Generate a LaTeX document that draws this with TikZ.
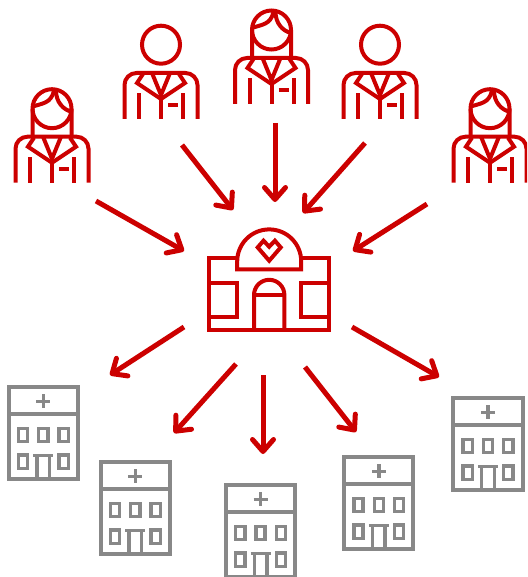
\documentclass[tikz,border=0pt]{standalone}
\usetikzlibrary{arrows.meta}
\definecolor{doRed}{HTML}{CC0000}
\definecolor{xam}{HTML}{888888}
\tikzset{
	nhanh/.style={doRed,line width=5pt,-{Straight Barb[length=12pt,width=21pt,line width=5pt,round]}},
	nguoi/.pic={
		% than nguoi
		\draw (-36.5,0)--(-36.5,-34) arc [radius=12, start angle=180, end angle=270]--(24.5,-46) arc [radius=12, start angle=270, end angle=360]--(36.5,0);
		\draw (-22,0)--(-22,-26) (22,0)--(22,-26) (0,0)--(0,-20) (7,-14)--(17,-14);
		\draw (-18,-45)--(-24,-36)--(0,-20)--(24,-36)--(18,-45);
		\draw (-9,-46)--(0,-24)--(9,-46);
	},
	nam/.pic={
		\pic {nguoi};
		\draw (0,-74.3) circle (19);
	},
	nu/.pic={
		\pic {nguoi};
		\draw (-19.5,-46)--(-19.5,-74) arc [radius=19.5, start angle=180, end angle=360]--(19.5,-46);
		\draw (-19.5,-74) arc [radius=19.5, start angle=180, end angle=0];
		\draw (-19.5,-76) .. controls (-10,-79.5) and (-1,-79) .. (2,-92);
		\draw (4,-92) .. controls (4,-81) and (11,-73) .. (19.5,-71);
	},
	phongkham/.pic={
		\draw (-32,-60.4)--(-60,-60.4)--(-60,11.3)--(60,11.3)--(60,-60.4)--(32,-60.4);
		\draw (-32,-49)--(-32,-57) arc [radius=32, start angle=180, end angle=360]--(32,-49)--cycle;
		\draw (-60,-35.7)--(-32,-35.7)--(-32,-1.7)--(-60,-1.7);
		\draw (60,-35.7)--(32,-35.7)--(32,-1.7)--(60,-1.7);
		\draw (-15.2,11.3)--(-15.2,-23.4) arc [radius=15.2, start angle=180, end angle=360]--(15.2,11.3);
		\draw (-15.2,-23.4)--(15.2,-23.4);
		% trai tim
		\draw[line join=miter] (0,-57.7)--(-11.5,-71)--(-5.7,-77.7)--(0,-71.7)--(5.7,-77.7)--(11.5,-71)--cycle;
	},
	benhvien/.pic={
		\draw[line width=4pt] (-34.6,2)--(34.6,2)--(34.6,94)--(-34.6,94)--cycle;
		\draw[line width=4pt] (-34.6,29.3)--(34.6,29.3);
		\draw[line width=3.4pt] (-7,16.3)--(7,16.3) (0,9.3)--(0,23.3);
		\foreach \i/\j in {-20.3/50,0/50,20.3/50,-20.3/76.7,20.3/76.7}
		\draw[line width=3.4pt] (\i-4.6,\j-6.6) rectangle (\i+4.6,\j+6.6);
		\draw[line width=3.4pt] (-10,70.7)--(10,70.7) (-6.3,70.7)--(-6.3,94) (6.3,70.7)--(6.3,94);
	}
}
\begin{document}
\begin{tikzpicture}[x=1pt,y=-1pt,line width=4pt,line join=miter]
	\useasboundingbox (0,0) rectangle (527,577);
	\clip (0,0) rectangle (527,577);
	% ve nguoi
	\pic[doRed] at (52,182.7) {nu};
	\pic[doRed] at (161,119) {nam};
	\pic[doRed] at (271.5,104) {nu};
	\pic[doRed] at (380,119) {nam};
	\pic[doRed] at (490,182.7) {nu};
	\pic[doRed] at (269.2,318.4) {phongkham};
	% ve benh vien
	\foreach \x/\y in {43.3/385,135.3/460,260.5/483,378.8/455,488/396}
	\pic[xam] at (\x,\y) {benhvien};
	% ve mui ten
	\path
	(96,201) coordinate (A1) (184,251) coordinate (B1)
	(182,145) coordinate (A2) (233,210) coordinate (B2)
	(275,123) coordinate (A3) (275,202) coordinate (B3)
	(365,143) coordinate (A4) (303,213) coordinate (B4)
	(427,204) coordinate (A5) (353,251) coordinate (B5)
	(184,327) coordinate (C1) (110,375) coordinate (D1)
	(236,364) coordinate (C2) (174,433) coordinate (D2)
	(263,375) coordinate (C3) (263,454) coordinate (D3)
	(305,367) coordinate (C4) (356,432) coordinate (D4)
	(352,327) coordinate (C5) (439,377) coordinate (D5);
	\foreach \i in {1,...,5}{
		\draw[nhanh] (A\i)--(B\i);
		\draw[nhanh] (C\i)--(D\i);
	}
\end{tikzpicture}
\end{document}
